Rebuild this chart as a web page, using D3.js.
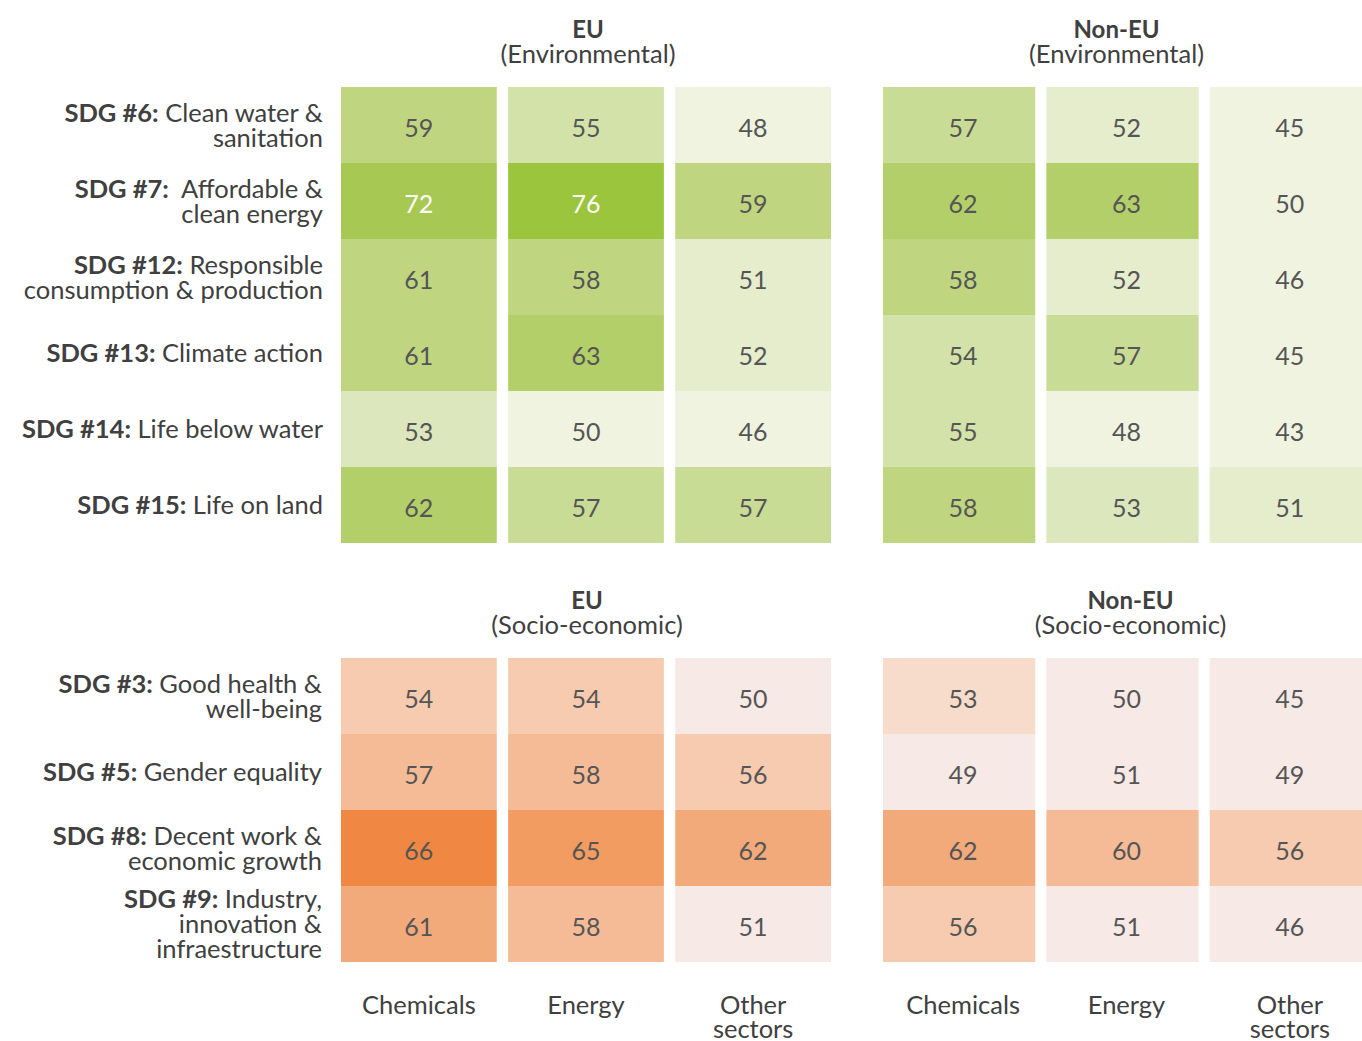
<!DOCTYPE html>
<html>
<head>
<meta charset="utf-8">
<script src="https://cdn.jsdelivr.net/npm/d3@7"></script>
<style>
  body { margin: 0; background: #fff; }
  text { font-family: Lato, "Open Sans", sans-serif; fill: #404040; }
</style>
</head>
<body>
<div id="chart"></div>
<script>
// ---- data ----
const sectors = ["Chemicals", "Energy", "Other sectors"];
const sectorLines = [["Chemicals"], ["Energy"], ["Other", "sectors"]];

const envRows = ["SDG #6", "SDG #7", "SDG #12", "SDG #13", "SDG #14", "SDG #15"];
const envLabels = [
    ["SDG #6:", " Clean water &", "sanitation"],
    ["SDG #7:", "  Affordable &", "clean energy"],
    ["SDG #12:", " Responsible", "consumption & production"],
    ["SDG #13:", " Climate action"],
    ["SDG #14:", " Life below water"],
    ["SDG #15:", " Life on land"]
];
const socRows = ["SDG #3", "SDG #5", "SDG #8", "SDG #9"];
const socLabels = [
    ["SDG #3:", " Good health &", "well-being"],
    ["SDG #5:", " Gender equality"],
    ["SDG #8:", " Decent work &", "economic growth"],
    ["SDG #9:", " Industry,", "innovation &", "infraestructure"]
];

// values per sector (columns), one entry per row
const euEnvChemicals = [59, 72, 61, 61, 53, 62];
const euEnvEnergy    = [55, 76, 58, 63, 50, 57];
const euEnvOther     = [48, 59, 51, 52, 46, 57];

const nonEuEnvChemicals = [57, 62, 58, 54, 55, 58];
const nonEuEnvEnergy    = [52, 63, 52, 57, 48, 53];
const nonEuEnvOther     = [45, 50, 46, 45, 43, 51];

const euSocChemicals = [54, 57, 66, 61];
const euSocEnergy    = [54, 58, 65, 58];
const euSocOther     = [50, 56, 62, 51];

const nonEuSocChemicals = [53, 49, 62, 56];
const nonEuSocEnergy    = [50, 51, 60, 51];
const nonEuSocOther     = [45, 49, 56, 46];

// ---- setup ----
const width = 1362, height = 1041;
const labelSize = "25.5px";

const svg = d3.select("#chart").append("svg")
    .attr("width", width)
    .attr("height", height);

const greenScale = d3.scaleThreshold()
    .domain([51, 53, 54, 57, 58, 62, 70, 74])
    .range(["#eff3df", "#e5edcc", "#dce7bd", "#d3e2a8", "#c9dc95", "#bfd580", "#b3cf69", "#a8c854", "#9bc53d"]);

const orangeScale = d3.scaleThreshold()
    .domain([52, 54, 57, 61, 63, 66])
    .range(["#f7e9e5", "#f7dccb", "#f6cbb0", "#f5bb96", "#f3aa7a", "#f29c62", "#f08844"]);

const euRange = [341, 831];
const nonEuRange = [883, 1362];

function toCells(rows, cols) {
    const cells = [];
    cols.forEach((vals, ci) => {
        vals.forEach((v, ri) => cells.push({row: rows[ri], sector: sectors[ci], value: v}));
    });
    return cells;
}

function drawPanel(opts) {
    const x = d3.scaleBand()
        .domain(sectors)
        .range(opts.xRange)
        .paddingInner(0.068);

    const y = d3.scaleBand()
        .domain(opts.rows)
        .range(opts.yRange);

    const g = svg.append("g");

    const cells = g.selectAll(".cell")
        .data(toCells(opts.rows, opts.cols))
        .enter().append("g")
        .attr("class", "cell");

    cells.append("rect")
        .attr("x", d => x(d.sector))
        .attr("y", d => y(d.row))
        .attr("width", x.bandwidth())
        .attr("height", y.bandwidth())
        .attr("fill", d => opts.color(d.value));

    cells.append("text")
        .attr("x", d => x(d.sector) + x.bandwidth() / 2 + opts.textShift)
        .attr("y", d => y(d.row) + y.bandwidth() / 2 + 3)
        .attr("dy", "0.36em")
        .attr("text-anchor", "middle")
        .style("font-size", "25px")
        .style("fill", d => d.value >= 70 ? "#fff" : "#555")
        .text(d => d.value);

    // title
    const cx = (opts.xRange[0] + opts.xRange[1]) / 2 + opts.titleShift;
    g.append("text")
        .attr("x", cx)
        .attr("y", opts.titleY)
        .attr("text-anchor", "middle")
        .style("font-size", "24px")
        .style("font-weight", "bold")
        .text(opts.title);
    g.append("text")
        .attr("x", cx)
        .attr("y", opts.titleY + 25)
        .attr("text-anchor", "middle")
        .style("font-size", labelSize)
        .text(opts.subtitle);

    return {x: x, y: y, shift: opts.textShift};
}

function drawRowLabels(y, rows, labels, xRight) {
    rows.forEach((r, i) => {
        const lines = labels[i].slice(1);
        const yc = y(r) + y.bandwidth() / 2;
        const top = yc - (lines.length - 1) * 12.5;
        lines.forEach((ln, li) => {
            const t = svg.append("text")
                .attr("x", xRight)
                .attr("y", top + li * 25)
                .attr("dy", "0.36em")
                .attr("text-anchor", "end")
                .style("font-size", labelSize)
                .style("white-space", "pre");
            if (li === 0) {
                t.append("tspan").style("font-weight", "bold").text(labels[i][0]);
                t.append("tspan").text(ln);
            } else {
                t.text(ln);
            }
        });
    });
}

function drawColLabels(panel) {
    const x = panel.x;
    sectors.forEach((s, i) => {
        sectorLines[i].forEach((ln, li) => {
            svg.append("text")
                .attr("x", x(s) + x.bandwidth() / 2 + panel.shift)
                .attr("y", 1005 + li * 24)
                .attr("dy", "0.36em")
                .attr("text-anchor", "middle")
                .style("font-size", labelSize)
                .text(ln);
        });
    });
}

// ---- environmental ----
const euEnv = drawPanel({
    xRange: euRange, yRange: [87, 543], rows: envRows,
    cols: [euEnvChemicals, euEnvEnergy, euEnvOther],
    color: greenScale, title: "EU", subtitle: "(Environmental)", titleY: 38, titleShift: 2, textShift: 0
});
drawPanel({
    xRange: nonEuRange, yRange: [87, 543], rows: envRows,
    cols: [nonEuEnvChemicals, nonEuEnvEnergy, nonEuEnvOther],
    color: greenScale, title: "Non-EU", subtitle: "(Environmental)", titleY: 38, titleShift: -6, textShift: 4
});
drawRowLabels(euEnv.y, envRows, envLabels, 323);

// ---- socio-economic ----
const euSoc = drawPanel({
    xRange: euRange, yRange: [658, 962], rows: socRows,
    cols: [euSocChemicals, euSocEnergy, euSocOther],
    color: orangeScale, title: "EU", subtitle: "(Socio-economic)", titleY: 609, titleShift: 1, textShift: 0
});
const nonEuSoc = drawPanel({
    xRange: nonEuRange, yRange: [658, 962], rows: socRows,
    cols: [nonEuSocChemicals, nonEuSocEnergy, nonEuSocOther],
    color: orangeScale, title: "Non-EU", subtitle: "(Socio-economic)", titleY: 609, titleShift: 8, textShift: 4
});
drawRowLabels(euSoc.y, socRows, socLabels, 322);

drawColLabels(euSoc);
drawColLabels(nonEuSoc);
</script>
</body>
</html>
